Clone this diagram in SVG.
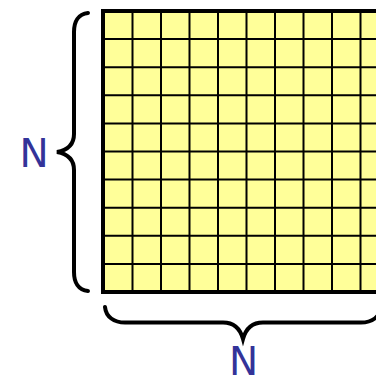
<svg xmlns="http://www.w3.org/2000/svg" width="376" height="376" viewBox="0 0 376 376">
<style>
.cell{fill:#ffff99;stroke:none}
.grid{fill:none;stroke:#000;stroke-width:2}
.border{fill:none;stroke:#000;stroke-width:4}
.brace{fill:none;stroke:#000;stroke-width:4;stroke-linecap:round}
.lbl{font-family:"DejaVu Sans",sans-serif;font-size:39px;fill:#333399;text-anchor:middle}
</style>
<rect width="376" height="376" fill="#fff"/>
<g id="matrix">
<rect class="cell" x="103" y="11" width="286" height="281"/>
<path class="grid" d="M132.5,11V292M161,11V292M189.5,11V292M218,11V292M246.5,11V292M275,11V292M303.5,11V292M332,11V292M360.5,11V292M103,39.1H389M103,67.2H389M103,95.3H389M103,123.4H389M103,151.5H389M103,179.6H389M103,207.7H389M103,235.8H389M103,263.9H389"/>
<rect class="border" x="103" y="11" width="286" height="281"/>
</g>
<g id="connectors">
<path id="brace-left" class="brace" d="M88,13 C78,14 74,22 74,32 L74,134 C74,144 68,150 57,152 C68,154 74,160 74,170 L74,272 C74,282 78,290 88,291"/>
<path id="brace-bottom" class="brace" d="M105,307 C106,317 114,322.5 125,322.5 L223,322.5 C233,322.5 240,328 243,339 C246,328 253,322.5 263,322.5 L361,322.5 C372,322.5 380,317 381,307"/>
</g>
<g id="label-left"><text class="lbl" x="34" y="167">N</text></g>
<g id="label-bottom"><text class="lbl" x="243.5" y="374.5">N</text></g>
</svg>
